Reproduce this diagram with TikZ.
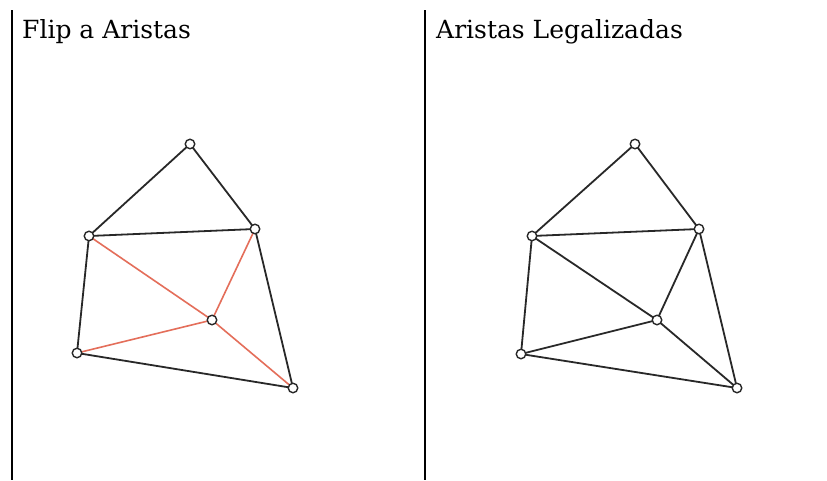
\documentclass[tikz,border=0pt]{standalone}
\usepackage{fontspec}
\setmainfont{DejaVu Serif}
\definecolor{flipred}{RGB}{228,110,90}
\definecolor{edgegray}{RGB}{40,40,40}
\begin{document}
\begin{tikzpicture}[x=1pt,y=-1pt,
  vtx/.style={circle,draw=edgegray,fill=white,line width=1.4pt,inner sep=0pt,minimum size=9.5pt},
  edge/.style={draw=edgegray,line width=1.8pt},
  flip/.style={draw=flipred,line width=1.6pt},
  sep/.style={draw=black,line width=1.6pt},
  ttl/.style={anchor=base west,inner sep=0pt,font=\fontsize{25}{29}\selectfont}]
\useasboundingbox[fill=white] (0,0) rectangle (827,480);
% separators
\coordinate (s1a) at (12,10); \coordinate (s1b) at (12,480);
\coordinate (s2a) at (425,10); \coordinate (s2b) at (425,480);
\draw[sep] (s1a) -- (s1b);
\draw[sep] (s2a) -- (s2b);
% titles
\node[ttl] (t1) at (22,38) {Flip a Aristas};
\node[ttl] (t2) at (436,38) {Aristas Legalizadas};
% left graph vertices
\coordinate (a1) at (190,144);
\coordinate (b1) at (89,236);
\coordinate (c1) at (255,229);
\coordinate (d1) at (212,320);
\coordinate (e1) at (77,353);
\coordinate (f1) at (293,388);
% right graph vertices
\coordinate (a2) at (635,144);
\coordinate (b2) at (532,236);
\coordinate (c2) at (699,229);
\coordinate (d2) at (657,320);
\coordinate (e2) at (521,354);
\coordinate (f2) at (737,388);
% left edges
\draw[edge] (a1) -- (b1);
\draw[edge] (a1) -- (c1);
\draw[edge] (b1) -- (c1);
\draw[edge] (b1) -- (e1);
\draw[edge] (e1) -- (f1);
\draw[edge] (c1) -- (f1);
\draw[flip] (b1) -- (d1);
\draw[flip] (d1) -- (f1);
\draw[flip] (c1) -- (d1);
\draw[flip] (e1) -- (d1);
% right edges
\draw[edge] (a2) -- (b2);
\draw[edge] (a2) -- (c2);
\draw[edge] (b2) -- (c2);
\draw[edge] (b2) -- (e2);
\draw[edge] (e2) -- (f2);
\draw[edge] (c2) -- (f2);
\draw[edge] (b2) -- (d2);
\draw[edge] (d2) -- (f2);
\draw[edge] (c2) -- (d2);
\draw[edge] (e2) -- (d2);
% vertex markers
\foreach \v in {a1,b1,c1,d1,e1,f1,a2,b2,c2,d2,e2,f2}
  \node[vtx] (n\v) at (\v) {};
\end{tikzpicture}
\end{document}
